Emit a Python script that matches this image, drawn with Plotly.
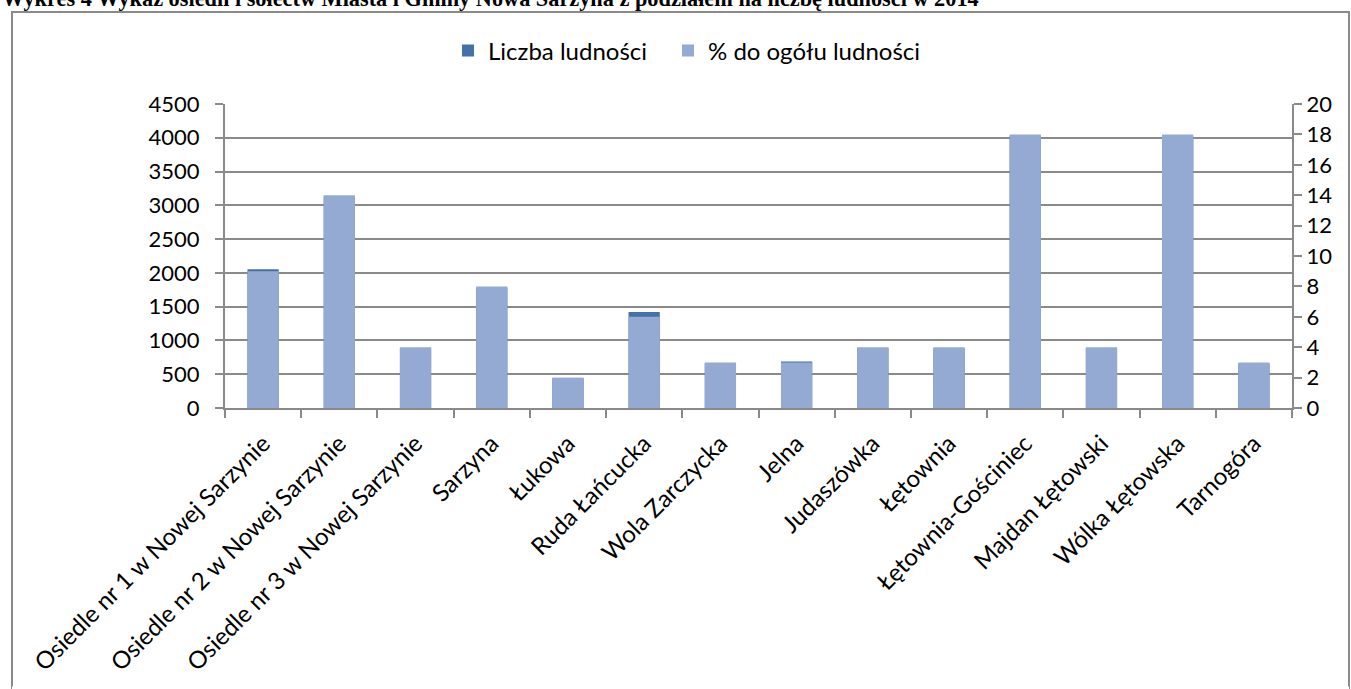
import plotly.graph_objects as go

# dane z wykresu
CATEGORIES = [
    "Osiedle nr 1 w Nowej Sarzynie",
    "Osiedle nr 2 w Nowej Sarzynie",
    "Osiedle nr 3 w Nowej Sarzynie",
    "Sarzyna",
    "Łukowa",
    "Ruda Łańcucka",
    "Wola Zarczycka",
    "Jelna",
    "Judaszówka",
    "Łętownia",
    "Łętownia-Gościniec",
    "Majdan Łętowski",
    "Wólka Łętowska",
    "Tarnogóra",
]
POPULATION = [2055, 3130, 885, 1780, 440, 1420, 660, 690, 890, 885, 4030, 880, 4020, 655]
PERCENT = [9, 14, 4, 8, 2, 6, 3, 3, 4, 4, 18, 4, 18, 3]

Y1_TICKS = list(range(0, 4501, 500))
Y2_TICKS = list(range(0, 21, 2))

DARK = "#4571A8"
LIGHT = "#95AAD2"
GRID = "#8A8A8A"
FONT = "Lato"

W, H = 1351, 689
L, T = 225, 104
R, B = W - 1292, H - 408
PW, PH = W - L - R, H - T - B


def px_x(x):
    return (x - L) / PW


def px_y(y):
    return (H - B - y) / PH


fig = go.Figure()
fig.add_trace(go.Bar(
    x=CATEGORIES, y=POPULATION, name="Liczba ludności",
    marker_color=DARK, marker_line_width=0, width=0.41,
    legend="legend",
))
fig.add_trace(go.Bar(
    x=CATEGORIES, y=PERCENT, name="% do ogółu ludności",
    marker_color=LIGHT, marker_line_width=0, width=0.41, yaxis="y2",
    legend="legend2",
))

legend_style = dict(
    orientation="h", y=px_y(51), xanchor="left", yanchor="middle",
    font=dict(size=24), bgcolor="rgba(0,0,0,0)",
)

fig.update_layout(
    width=W, height=H,
    margin=dict(l=L, r=R, t=T, b=B, pad=0),
    paper_bgcolor="white", plot_bgcolor="white",
    barmode="overlay",
    font=dict(family=FONT, size=22, color="black"),
    showlegend=True,
    legend=dict(x=px_x(448), **legend_style),
    legend2=dict(x=px_x(668), **legend_style),
    xaxis=dict(
        type="category", tickangle=-45,
        showline=True, linecolor=GRID, linewidth=2,
        ticks="outside", ticklen=8, tickcolor=GRID, tickwidth=2,
        tickson="boundaries", showgrid=False,
        tickfont=dict(size=24), ticklabelstandoff=10,
    ),
    yaxis=dict(
        range=[0, 4500], tickvals=Y1_TICKS,
        showline=True, linecolor=GRID, linewidth=2,
        ticks="outside", ticklen=8, tickcolor=GRID, tickwidth=2,
        showgrid=True, gridcolor=GRID, gridwidth=2,
        zeroline=False, ticklabelstandoff=11,
    ),
    # odstęp etykiet po prawej przez prefiks (standoff poszerzał stronę)
    yaxis2=dict(
        range=[0, 20], tickvals=Y2_TICKS, overlaying="y", side="right",
        showline=True, linecolor=GRID, linewidth=2,
        ticks="outside", ticklen=8, tickcolor=GRID, tickwidth=2,
        showgrid=False, zeroline=False, tickprefix="\u2002",
    ),
)

# ramka wykresu (dół poza kadrem w oryginale)
fig.add_shape(
    type="rect", xref="paper", yref="paper",
    x0=px_x(12), x1=px_x(1349), y0=px_y(H - 1), y1=px_y(12),
    line=dict(color=GRID, width=2), fillcolor="rgba(0,0,0,0)", layer="below",
)
fig.add_shape(
    type="line", xref="paper", yref="paper",
    x0=px_x(12), x1=px_x(1349), y0=px_y(H - 1), y1=px_y(H - 1),
    line=dict(color="white", width=3),
)

# tytuł ucięty u góry
fig.add_annotation(
    text="<b>Wykres 4 Wykaz osiedli i sołectw Miasta i Gminy Nowa Sarzyna "
         "z podziałem na liczbę ludności w 2014</b>",
    xref="paper", yref="paper", x=px_x(0), y=px_y(-1),
    xanchor="left", yanchor="middle", showarrow=False,
    font=dict(family="Liberation Serif", size=22.3, color="black"),
)

# bez marginesu body i bez przewijania, żeby wykres wypełniał okno
fig.write_html(
    "out.html",
    config={"displayModeBar": False},
    post_script="document.body.style.margin='0';"
                "document.documentElement.style.overflow='hidden';",
)
